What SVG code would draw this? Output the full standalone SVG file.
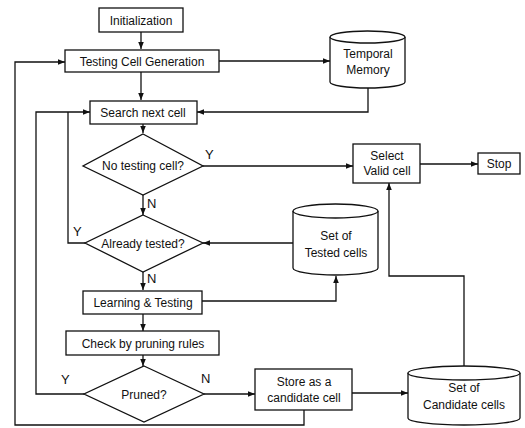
<svg xmlns="http://www.w3.org/2000/svg" width="525" height="428" viewBox="0 0 525 428">
<defs>
<style>
.box{fill:#fff;stroke:#111;stroke-width:1.3}
.ln{fill:none;stroke:#111;stroke-width:1.3}
.t{font-family:"Liberation Sans",Arial,sans-serif;font-size:12px;fill:#111;text-anchor:middle}
.lb{font-family:"Liberation Sans",Arial,sans-serif;font-size:13px;fill:#111}
</style>
<marker id="ah" viewBox="0 0 10 10" refX="10" refY="5" markerWidth="7" markerHeight="7" markerUnits="userSpaceOnUse" orient="auto">
<path d="M0,1 L10,5 L0,9 Z" fill="#111"/>
</marker>
</defs>
<rect width="525" height="428" fill="#fff"/>
<g id="connectors">
<path class="ln" d="M141,32 V49" marker-end="url(#ah)"/>
<path class="ln" d="M141,71 V100" marker-end="url(#ah)"/>
<path class="ln" d="M219,61 H330" marker-end="url(#ah)"/>
<path class="ln" d="M368,88 V112 H197" marker-end="url(#ah)"/>
<path class="ln" d="M143,124 V133" marker-end="url(#ah)"/>
<path class="ln" d="M203,166 H353" marker-end="url(#ah)"/>
<path class="ln" d="M143,195 V215" marker-end="url(#ah)"/>
<path class="ln" d="M85,243 H68 V112" />
<path class="ln" d="M293,243 H203" marker-end="url(#ah)"/>
<path class="ln" d="M143,272 V290" marker-end="url(#ah)"/>
<path class="ln" d="M202,301 H336 V276" marker-end="url(#ah)"/>
<path class="ln" d="M143,314 V331" marker-end="url(#ah)"/>
<path class="ln" d="M143,355 V366" marker-end="url(#ah)"/>
<path class="ln" d="M84,394 H36 V112 H90" marker-end="url(#ah)"/>
<path class="ln" d="M204,394 H255" marker-end="url(#ah)"/>
<path class="ln" d="M352,393 H408" marker-end="url(#ah)"/>
<path class="ln" d="M304,410 V425 H15 V62 H65" marker-end="url(#ah)"/>
<path class="ln" d="M464,367 V276 H389 V183" marker-end="url(#ah)"/>
<path class="ln" d="M420,164 H478" marker-end="url(#ah)"/>
<text class="lb" x="205" y="159">Y</text>
<text class="lb" x="147" y="208">N</text>
<text class="lb" x="73" y="236">Y</text>
<text class="lb" x="147" y="283">N</text>
<text class="lb" x="61" y="384">Y</text>
<text class="lb" x="201" y="383">N</text>
</g>
<g id="initialization">
<rect class="box" x="99" y="8" width="84" height="24"/>
<text class="t" x="141" y="24.5">Initialization</text>
</g>
<g id="testing-cell-generation">
<rect class="box" x="65" y="50" width="154" height="22"/>
<text class="t" x="142" y="65.5">Testing Cell Generation</text>
</g>
<g id="temporal-memory">
<path class="box" d="M330,37 V82 A37.5,6 0 0 0 405,82 V37"/>
<ellipse class="box" cx="367.5" cy="37" rx="37.5" ry="6"/>
<text class="t" x="368" y="58">Temporal</text>
<text class="t" x="368" y="74">Memory</text>
</g>
<g id="search-next-cell">
<rect class="box" x="90" y="101" width="107" height="23"/>
<text class="t" x="143" y="116.5">Search next cell</text>
</g>
<g id="no-testing-cell">
<polygon class="box" points="143,134 203,166 143,195 83,166"/>
<text class="t" x="143" y="170">No testing cell?</text>
</g>
<g id="select-valid-cell">
<rect class="box" x="353" y="144" width="67" height="39"/>
<text class="t" x="387" y="160">Select</text>
<text class="t" x="387" y="175">Valid cell</text>
</g>
<g id="stop">
<rect class="box" x="478" y="153" width="42" height="21"/>
<text class="t" x="499" y="168">Stop</text>
</g>
<g id="already-tested">
<polygon class="box" points="143,215 203,243 143,272 85,243"/>
<text class="t" x="143" y="247.5">Already tested?</text>
</g>
<g id="set-of-tested-cells">
<path class="box" d="M293,211 V268 A42.5,7 0 0 0 378,268 V211"/>
<ellipse class="box" cx="335.5" cy="211" rx="42.5" ry="7"/>
<text class="t" x="336" y="240">Set of</text>
<text class="t" x="336" y="257">Tested cells</text>
</g>
<g id="learning-testing">
<rect class="box" x="83" y="291" width="119" height="23"/>
<text class="t" x="143" y="306.5">Learning &amp; Testing</text>
</g>
<g id="check-pruning">
<rect class="box" x="66" y="331" width="153" height="24"/>
<text class="t" x="143" y="347.5">Check by pruning rules</text>
</g>
<g id="pruned">
<polygon class="box" points="144,366 204,394 144,422 84,394"/>
<text class="t" x="144" y="398.5">Pruned?</text>
</g>
<g id="store-candidate">
<rect class="box" x="255" y="369" width="97" height="41"/>
<text class="t" x="304" y="386">Store as a</text>
<text class="t" x="304" y="402">candidate cell</text>
</g>
<g id="set-of-candidate-cells">
<path class="box" d="M408,373 V418 A56,7 0 0 0 520,418 V373"/>
<ellipse class="box" cx="464" cy="373" rx="56" ry="7"/>
<text class="t" x="464" y="392">Set of</text>
<text class="t" x="464" y="409">Candidate cells</text>
</g>
</svg>
